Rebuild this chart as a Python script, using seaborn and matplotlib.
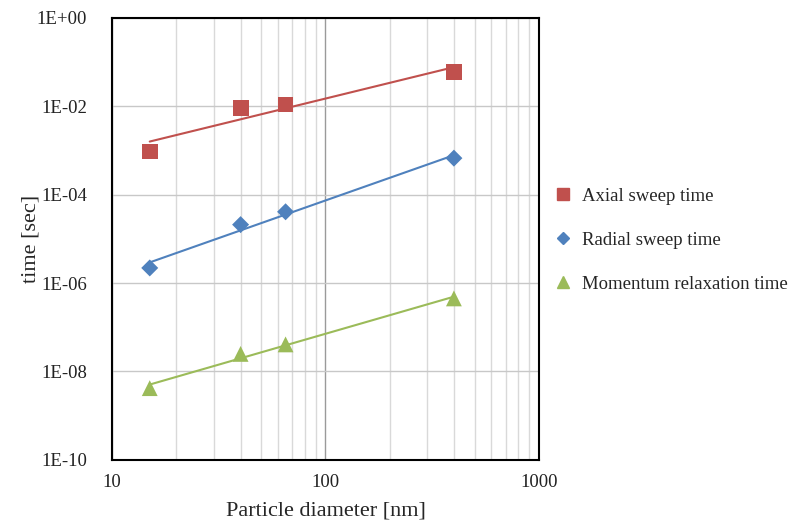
import numpy as np
import pandas as pd
import matplotlib
matplotlib.use("Agg")
import matplotlib.pyplot as plt
import matplotlib.ticker as mticker
import seaborn as sns

diameter = [15, 40, 65, 400]
axial = [9.5e-4, 9.0e-3, 1.1e-2, 5.9e-2]
radial = [2.2e-6, 2.1e-5, 4.1e-5, 6.7e-4]
momentum = [4.2e-9, 2.5e-8, 4.1e-8, 4.5e-7]
series_names = ["Axial sweep time", "Radial sweep time", "Momentum relaxation time"]
colors = ["#C0504D", "#4F81BD", "#9BBB59"]
markers = ["s", "D", "^"]
sizes = [130, 75, 130]

sns.set_style("white")
plt.rcParams["font.family"] = ["Liberation Serif", "DejaVu Serif"]

fig = plt.figure(figsize=(7.9, 5.25), dpi=100)
ax = fig.add_axes([0.142, 0.124, 0.540, 0.842])

values = [axial, radial, momentum]
handles = []
for name, vals, c, m, s in zip(series_names, values, colors, markers, sizes):
    df = pd.DataFrame({"d": diameter, "t": vals})
    # power-law trend line fitted from data
    coef = np.polyfit(np.log10(df["d"]), np.log10(df["t"]), 1)
    fit = pd.DataFrame({"d": df["d"], "t": 10 ** np.polyval(coef, np.log10(df["d"]))})
    sns.lineplot(data=fit, x="d", y="t", ax=ax, color=c, linewidth=1.5, zorder=3)
    sns.scatterplot(data=df, x="d", y="t", ax=ax, color=c, marker=m, s=s,
                    edgecolor="none", zorder=4)
    handles.append(plt.Line2D([], [], linestyle="none", marker=m, color=c,
                              markersize={"s": 8, "D": 6, "^": 8}[m]))

ax.set_xscale("log")
ax.set_yscale("log")
ax.set_xlim(10, 1000)
ax.set_ylim(1e-10, 1)

ax.xaxis.set_major_locator(mticker.FixedLocator([10, 100, 1000]))
ax.xaxis.set_major_formatter(mticker.FixedFormatter(["10", "100", "1000"]))
ax.xaxis.set_minor_locator(mticker.LogLocator(base=10, subs=np.arange(2, 10), numticks=20))
ax.xaxis.set_minor_formatter(mticker.NullFormatter())

yt = [1e-10, 1e-8, 1e-6, 1e-4, 1e-2, 1]
ax.yaxis.set_major_locator(mticker.FixedLocator(yt))
ax.yaxis.set_major_formatter(mticker.FixedFormatter(
    ["1E-10", "1E-08", "1E-06", "1E-04", "1E-02", "1E+00"]))
ax.yaxis.set_minor_locator(mticker.NullLocator())

ax.grid(True, which="major", axis="x", color="#9a9a9a", linewidth=1.0)
ax.grid(True, which="minor", axis="x", color="#d9d9d9", linewidth=1.0)
ax.grid(True, which="major", axis="y", color="#c8c8c8", linewidth=1.0)
ax.set_axisbelow(True)

for sp in ax.spines.values():
    sp.set_visible(True)
    sp.set_color("black")
    sp.set_linewidth(1.5)

ax.tick_params(axis="both", which="both", length=0, labelsize=13.5, colors="#222222")
ax.tick_params(axis="x", pad=10)
ax.tick_params(axis="y", pad=18)
ax.set_xlabel("Particle diameter [nm]", fontsize=16, labelpad=8)
ax.set_ylabel("time [sec]", fontsize=16, labelpad=-3)

fig.legend(handles, series_names, loc="upper left", bbox_to_anchor=(0.68, 0.675),
           frameon=False, fontsize=13.5, handletextpad=0.5, labelspacing=1.44,
           handlelength=1.0)

fig.savefig("out.png", dpi=100, facecolor="white")
